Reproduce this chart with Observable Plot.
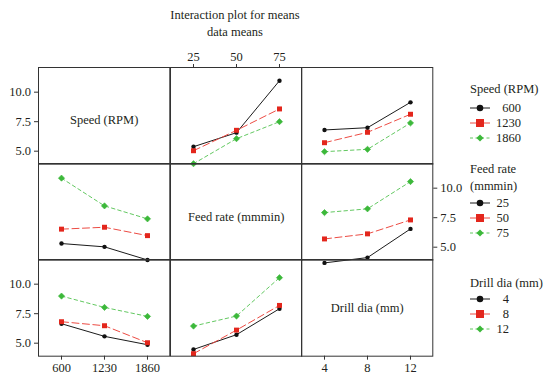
<!DOCTYPE html>
<html>
<head>
<meta charset="utf-8">
<script src="https://cdn.jsdelivr.net/npm/d3@7"></script>
<script src="https://cdn.jsdelivr.net/npm/@observablehq/plot@0.6"></script>
<style>
  body { margin: 0; background: #fff; }
  #chart { position: relative; width: 549px; height: 377px; overflow: hidden;
           font-family: "Liberation Serif", "DejaVu Serif", "Times New Roman", serif; font-size: 12.5px; color: #231f20; }
  .abs { position: absolute; white-space: nowrap; line-height: 1; }
  .panel { position: absolute; }
  .panel svg { overflow: visible; }
</style>
</head>
<body>
<div id="chart"></div>
<script>
// Factor levels
const speedLevels = ["600", "1230", "1860"];
const feedLevels = ["25", "50", "75"];
const drillLevels = ["4", "8", "12"];
const factorNames = ["Speed (RPM)", "Feed rate (mmmin)", "Drill dia (mm)"];
const yTicks = [5, 7.5, 10];

// Data means: one row per level of the traced factor, one value per level of the x factor
const speedByFeed  = [[5.38, 6.57, 10.97], [5.04, 6.77, 8.58], [3.94, 6.06, 7.50]];
const speedByDrill = [[6.80, 6.99, 9.14],  [5.72, 6.60, 8.13], [4.96, 5.16, 7.39]];
const feedBySpeed  = [[5.31, 5.03, 3.92],  [6.53, 6.69, 5.98], [10.85, 8.50, 7.40]];
const feedByDrill  = [[3.67, 4.12, 6.55],  [5.70, 6.13, 7.31], [7.93, 8.25, 10.56]];
const drillBySpeed = [[6.65, 5.58, 4.87],  [6.82, 6.48, 5.04], [8.99, 8.03, 7.27]];
const drillByFeed  = [[4.47, 5.72, 7.92],  [4.11, 6.11, 8.20], [6.45, 7.30, 10.55]];

const factorLevels = [speedLevels, feedLevels, drillLevels];
// cells[row][col]: row = traced factor, col = factor on the x axis
const cells = [
  [null, speedByFeed, speedByDrill],
  [feedBySpeed, null, feedByDrill],
  [drillBySpeed, drillByFeed, null]
];

// Series styling (first, second, third level of the traced factor)
const markColors = ["#111111", "#e3261c", "#3cb83a"];
const lineColors = ["#1a1a1a", "#ec4a42", "#62c860"];
const dashes = [null, "7,3.5", "3.5,3"];
const symbols = ["circle", "square", "diamond2"];
const radii = [2.2, 2.8, 2.8];

// Panel grid geometry
const colLeft = [38.3, 169.5, 300.8];
const rowTop = [66.5, 162.6, 259.1];
const panelW = 131.3;
const panelH = 96.7;
const yDomain = [3.9, 12.09];
const labelDy = [4, 5, 0];
const serif = "'Liberation Serif', 'DejaVu Serif', 'Times New Roman', serif";

const chart = document.getElementById("chart");

function addText(text, left, top, opts = {}) {
  const d = document.createElement("div");
  d.className = "abs";
  d.textContent = text;
  d.style.left = left + "px";
  d.style.top = top + "px";
  if (opts.center) d.style.transform = "translate(-50%, -50%)";
  else if (opts.right) d.style.transform = "translate(-100%, -50%)";
  else d.style.transform = "translate(0, -50%)";
  chart.appendChild(d);
}

// Title
addText("Interaction plot for means", 235, 14.5, {center: true});
addText("data means", 235, 31.5, {center: true});

const axisStyle = {tickSize: 4, tickPadding: 3.5, label: null, fontSize: 12.5, stroke: "#333", fill: "#231f20"};

function panel(r, c) {
  const marks = [];
  if (r === c) {
    marks.push(Plot.text([factorNames[r]], {
      text: d => d, frameAnchor: "middle", dy: labelDy[r], fontSize: 12.5, fill: "#231f20"
    }));
  } else {
    const xLevels = factorLevels[c];
    cells[r][c].forEach((vals, k) => {
      const rows = vals.map((v, i) => ({x: xLevels[i], y: v}));
      marks.push(Plot.line(rows, {
        x: "x", y: "y", stroke: lineColors[k], strokeWidth: 1,
        strokeDasharray: dashes[k] ?? undefined
      }));
      marks.push(Plot.dot(rows, {
        x: "x", y: "y", symbol: symbols[k], r: radii[k],
        fill: markColors[k], stroke: markColors[k], strokeWidth: k === 2 ? 0.6 : 0
      }));
    });
  }
  // axes placed on the outer edges of the matrix
  if (c === 0 && r !== 1) marks.push(Plot.axisY({anchor: "left", ticks: yTicks, tickFormat: d3.format(".1f"), ...axisStyle}));
  if (r === 1 && c === 2) marks.push(Plot.axisY({anchor: "right", ticks: yTicks, tickFormat: d3.format(".1f"), ...axisStyle}));
  if (r === 0 && c === 1) marks.push(Plot.axisX({anchor: "top", ...axisStyle, tickPadding: 3}));
  if (r === 2 && c !== 1) marks.push(Plot.axisX({anchor: "bottom", ...axisStyle, tickPadding: 3}));
  marks.push(Plot.frame({stroke: "#333", strokeWidth: 1}));

  const svg = Plot.plot({
    width: panelW,
    height: panelH,
    margin: 0,
    x: {type: "point", domain: factorLevels[c], axis: null},
    y: {type: "linear", domain: yDomain, axis: null},
    style: {background: "transparent", overflow: "visible", fontFamily: serif, fontSize: "12.5px", color: "#231f20"},
    marks
  });
  const wrap = document.createElement("div");
  wrap.className = "panel";
  wrap.style.left = colLeft[c] + "px";
  wrap.style.top = rowTop[r] + "px";
  wrap.appendChild(svg);
  chart.appendChild(wrap);
}

for (let r = 0; r < 3; r++) for (let c = 0; c < 3; c++) panel(r, c);

// Legends, one per factor
const symbolTypes = [d3.symbolCircle, d3.symbolSquare, d3.symbolDiamond2];
const legendSizes = [34, 64, 32];

function swatch(k, cy) {
  const ns = "http://www.w3.org/2000/svg";
  const svg = document.createElementNS(ns, "svg");
  svg.setAttribute("width", 24);
  svg.setAttribute("height", 12);
  svg.style.position = "absolute";
  svg.style.left = "469px";
  svg.style.top = (cy - 6) + "px";
  svg.style.overflow = "visible";
  const line = document.createElementNS(ns, "line");
  line.setAttribute("x1", 1); line.setAttribute("x2", 21);
  line.setAttribute("y1", 6); line.setAttribute("y2", 6);
  line.setAttribute("stroke", lineColors[k]);
  line.setAttribute("stroke-width", 1);
  if (k === 2) line.setAttribute("stroke-dasharray", "3,2.5");
  svg.appendChild(line);
  const p = document.createElementNS(ns, "path");
  p.setAttribute("d", d3.symbol(symbolTypes[k], legendSizes[k])());
  p.setAttribute("transform", "translate(11,6)");
  p.setAttribute("fill", markColors[k]);
  svg.appendChild(p);
  chart.appendChild(svg);
}

const legends = [
  {title: ["Speed (RPM)"], titleY: [89], itemY: [108.3, 123.3, 138.3], right: 521},
  {title: ["Feed rate", "(mmmin)"], titleY: [169, 186], itemY: [202.7, 217.7, 233], right: 509},
  {title: ["Drill dia (mm)"], titleY: [282.7], itemY: [298.7, 314.3, 329.3], right: 509}
];

legends.forEach((lg, f) => {
  lg.title.forEach((t, i) => addText(t, 470, lg.titleY[i]));
  factorLevels[f].forEach((lev, k) => {
    swatch(k, lg.itemY[k]);
    addText(lev, lg.right, lg.itemY[k], {right: true});
  });
});
</script>
</body>
</html>
